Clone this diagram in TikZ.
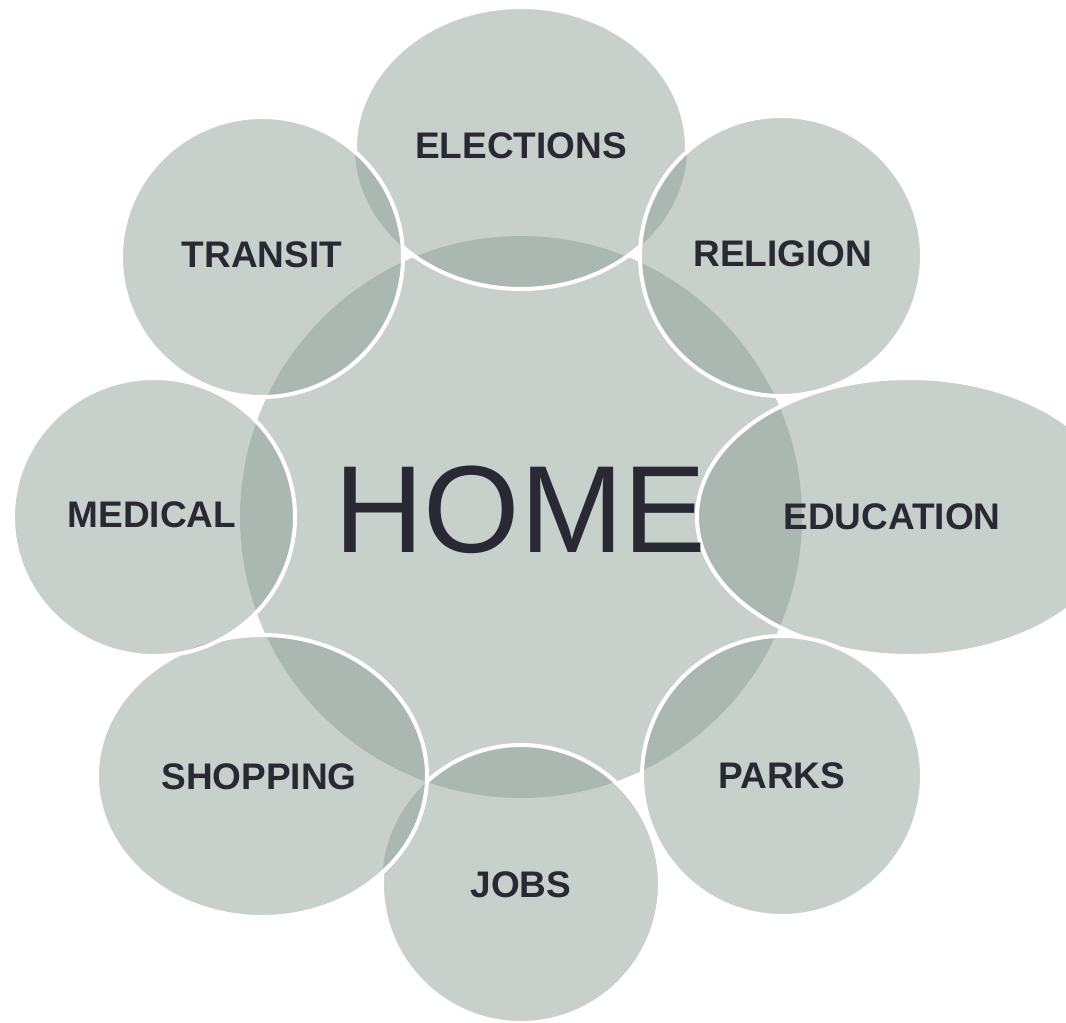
\documentclass[tikz,border=0pt]{standalone}
\usepackage{fontspec}
\setmainfont{Liberation Sans}

\definecolor{sage}{RGB}{143,161,151}
\definecolor{ink}{RGB}{41,41,51}

\begin{document}
\begin{tikzpicture}[
    x = 1pt, % one unit per pixel
    y = -1pt, % y runs downwards
    ]

    \tikzset{
    bubble/.style = {fill = sage, fill opacity = 0.5},
    rim/.style = {draw = white, line width = 4pt},
    topic/.style = {text = ink, font = \fontsize{37}{44}\selectfont\bfseries}
    }
    \useasboundingbox (0,0) rectangle (1066,1023);

    % hub and the bubbles round it, clockwise from the top
    \fill[bubble] (521,517) circle (281);
    \fill[bubble] (521,148) ellipse [x radius=166, y radius=141];
    \fill[bubble] (781,256) ellipse [x radius=141, y radius=140];
    \fill[bubble] (909,517) ellipse [x radius=212, y radius=139];
    \fill[bubble] (782,776) ellipse [x radius=140, y radius=140];
    \fill[bubble] (521,884) ellipse [x radius=139, y radius=139];
    \fill[bubble] (262,776) ellipse [x radius=165, y radius=141];
    \fill[bubble] (154,517) ellipse [x radius=141, y radius=139];
    \fill[bubble] (262,257) ellipse [x radius=141, y radius=140];

    % white rims, each one hidden under the bubble that comes after it
    \begin{scope}[even odd rule]
    \clip (-20,-20) rectangle (1200,1100) (781,256) ellipse [x radius=141, y radius=140] (262,257) ellipse [x radius=141, y radius=140];
    \draw[rim] (521,148) ellipse [x radius=166, y radius=141];
    \end{scope}
    \begin{scope}[even odd rule]
    \clip (-20,-20) rectangle (1200,1100) (909,517) ellipse [x radius=212, y radius=139];
    \draw[rim] (781,256) ellipse [x radius=141, y radius=140];
    \end{scope}
    \begin{scope}[even odd rule]
    \clip (-20,-20) rectangle (1200,1100) (782,776) ellipse [x radius=140, y radius=140];
    \draw[rim] (909,517) ellipse [x radius=212, y radius=139];
    \end{scope}
    \begin{scope}[even odd rule]
    \clip (-20,-20) rectangle (1200,1100) (521,884) ellipse [x radius=139, y radius=139];
    \draw[rim] (782,776) ellipse [x radius=140, y radius=140];
    \end{scope}
    \begin{scope}[even odd rule]
    \clip (-20,-20) rectangle (1200,1100) (262,776) ellipse [x radius=165, y radius=141];
    \draw[rim] (521,884) ellipse [x radius=139, y radius=139];
    \end{scope}
    \begin{scope}[even odd rule]
    \clip (-20,-20) rectangle (1200,1100) (154,517) ellipse [x radius=141, y radius=139];
    \draw[rim] (262,776) ellipse [x radius=165, y radius=141];
    \end{scope}
    \begin{scope}[even odd rule]
    \clip (-20,-20) rectangle (1200,1100) (262,257) ellipse [x radius=141, y radius=140];
    \draw[rim] (154,517) ellipse [x radius=141, y radius=139];
    \end{scope}
    \draw[rim] (262,257) ellipse [x radius=141, y radius=140];

    % labels
    \node[text = ink, font = \fontsize{124}{130}\selectfont] (home) at (520,510) {HOME};
    \node[topic] (elections) at (521,146) {ELECTIONS};
    \node[topic] (religion) at (783,254) {RELIGION};
    \node[topic] (education) at (892,517) {EDUCATION};
    \node[topic] (parks) at (782,776) {PARKS};
    \node[topic] (jobs) at (521,885) {JOBS};
    \node[topic] (shopping) at (259,777) {SHOPPING};
    \node[topic] (medical) at (152,515) {MEDICAL};
    \node[topic] (transit) at (262,255) {TRANSIT};
\end{tikzpicture}
\end{document}
